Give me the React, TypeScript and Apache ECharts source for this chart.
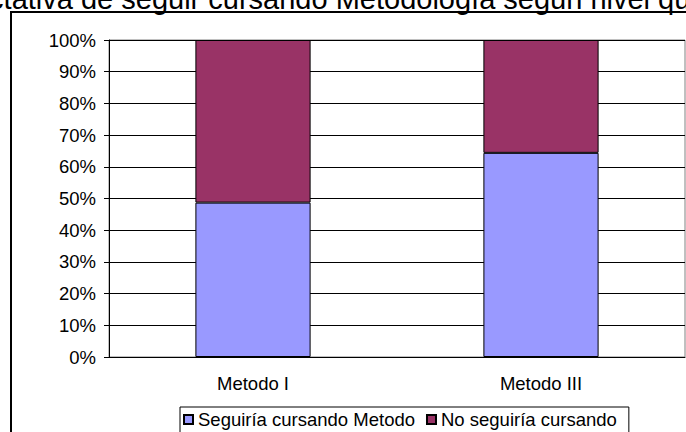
import React, { useEffect, useRef } from "react";
import * as echarts from "echarts";

const categories = ["Metodo I", "Metodo III"];
const seguiria = [48.7, 64.4];
const noSeguiria = [51.3, 35.6];
const seriesNames = ["Seguiría cursando Metodo", "No seguiría cursando"];
const titleText = "Expectativa de seguir cursando Metodología según nivel que cursa";

const FONT = 'Arial, "Liberation Sans", sans-serif';

export default function App() {
  const ref = useRef<HTMLDivElement>(null);
  useEffect(() => {
    document.body.style.margin = "0";
    const chart = echarts.init(ref.current!, null, { renderer: "svg" });
    chart.setOption({
      animation: false,
      backgroundColor: "#fff",
      textStyle: { fontFamily: FONT, color: "#000" },
      graphic: [
        {
          type: "rect",
          z: -10,
          shape: { x: 11, y: 12, width: 800, height: 500 },
          style: { fill: "none", stroke: "#000", lineWidth: 2 },
        },
        {
          type: "text",
          x: -77,
          y: -1,
          style: {
            text: titleText,
            font: `29px ${FONT}`,
            fill: "#000",
            align: "left",
            verticalAlign: "middle",
          },
        },
      ],
      grid: {
        left: 109,
        top: 40,
        right: 1,
        bottom: 75,
        show: true,
        borderColor: "#808080",
        borderWidth: 1,
        backgroundColor: "#fff",
      },
      legend: {
        left: 180,
        top: 407,
        padding: [3, 12, 10, 3],
        itemWidth: 9,
        itemHeight: 9,
        itemGap: 11,
        borderColor: "#000",
        borderWidth: 1,
        backgroundColor: "#fff",
        icon: "rect",
        textStyle: { fontSize: 18.5, color: "#000", fontFamily: FONT },
        data: seriesNames,
      },
      xAxis: {
        type: "category",
        data: categories,
        axisLine: { lineStyle: { color: "#000", width: 1 } },
        axisTick: { length: 5, lineStyle: { color: "#000" } },
        axisLabel: { fontSize: 18.5, color: "#000", margin: 17, fontFamily: FONT },
        splitLine: { show: false },
      },
      yAxis: {
        type: "value",
        min: 0,
        max: 100,
        interval: 10,
        axisLine: { show: true, lineStyle: { color: "#000", width: 1 } },
        axisTick: { show: true, length: 5, lineStyle: { color: "#000" } },
        axisLabel: {
          fontSize: 18.5,
          color: "#000",
          margin: 13,
          formatter: "{value}%",
          fontFamily: FONT,
        },
        splitLine: { show: true, lineStyle: { color: "#000", width: 1 } },
      },
      series: [
        {
          name: seriesNames[0],
          type: "bar",
          stack: "total",
          barWidth: "40%",
          data: seguiria,
          itemStyle: { color: "#9999FF", borderColor: "#000", borderWidth: 1 },
        },
        {
          name: seriesNames[1],
          type: "bar",
          stack: "total",
          barWidth: "40%",
          data: noSeguiria,
          itemStyle: { color: "#993366", borderColor: "#000", borderWidth: 1 },
        },
      ],
    });
    return () => chart.dispose();
  }, []);
  return <div ref={ref} style={{ width: 686, height: 432 }} />;
}
